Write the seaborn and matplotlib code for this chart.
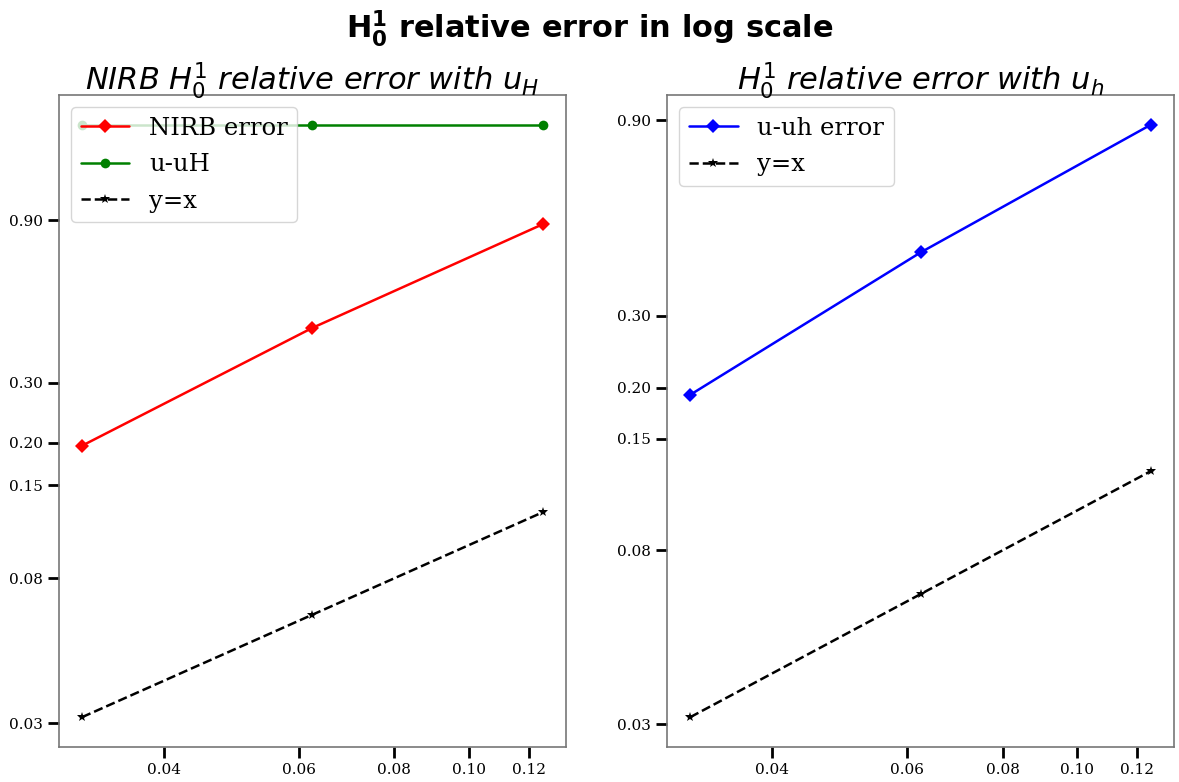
import numpy as np
import pandas as pd
import matplotlib
matplotlib.use("Agg")
import matplotlib.pyplot as plt
import seaborn as sns
from matplotlib.ticker import FormatStrFormatter, NullLocator

# mesh sizes and errors
h = [1 / 32, 1 / 16, 1 / 8]
nirb_err = [0.196, 0.435, 0.877]
u_uH_err = [1.72, 1.72, 1.72]
u_uh_err = [0.192, 0.428, 0.879]
yx = [1 / 32, 1 / 16, 1 / 8]

yticks = [0.03, 0.08, 0.15, 0.20, 0.30, 0.90]
xticks = [0.04, 0.06, 0.08, 0.10, 0.12]

sns.set_style("white")
plt.rcParams["font.family"] = ["DejaVu Serif"]
plt.rcParams["mathtext.fontset"] = "dejavusans"
plt.rcParams["text.color"] = "black"
plt.rcParams["xtick.color"] = "black"
plt.rcParams["ytick.color"] = "black"
plt.rcParams["xtick.labelcolor"] = "black"
plt.rcParams["ytick.labelcolor"] = "black"

fig, axes = plt.subplots(1, 2, figsize=(11.79, 7.82), dpi=100)
fig.subplots_adjust(left=0.050, right=0.9958, bottom=0.045, top=0.8785, wspace=0.2)

ax = axes[0]
sns.lineplot(x=h, y=nirb_err, ax=ax, color="red", marker="D", markersize=7,
             markeredgewidth=0, linewidth=1.8, label="NIRB error")
sns.lineplot(x=h, y=u_uH_err, ax=ax, color="green", marker="o", markersize=7,
             markeredgewidth=0, linewidth=1.8, label="u-uH")
sns.lineplot(x=h, y=yx, ax=ax, color="black", marker="*", markersize=7,
             markeredgewidth=0, linewidth=1.8, linestyle="--", label="y=x")
ax.set_title(r"NIRB $H_0^1$ relative error with $u_H$", fontsize=22,
             family="DejaVu Sans", style="italic", color="black", pad=4)

ax = axes[1]
sns.lineplot(x=h, y=u_uh_err, ax=ax, color="blue", marker="D", markersize=7,
             markeredgewidth=0, linewidth=1.8, label="u-uh error")
sns.lineplot(x=h, y=yx, ax=ax, color="black", marker="*", markersize=7,
             markeredgewidth=0, linewidth=1.8, linestyle="--", label="y=x")
ax.set_title(r"$H_0^1$ relative error with $u_h$", fontsize=22,
             family="DejaVu Sans", style="italic", color="black", pad=4)

for ax in axes:
    ax.set_xscale("log")
    ax.set_yscale("log")
    ax.set_xticks(xticks)
    ax.set_yticks(yticks)
    ax.xaxis.set_major_formatter(FormatStrFormatter("%.2f"))
    ax.yaxis.set_major_formatter(FormatStrFormatter("%.2f"))
    ax.xaxis.set_minor_locator(NullLocator())
    ax.yaxis.set_minor_locator(NullLocator())
    ax.tick_params(axis="both", which="major", direction="out", length=8,
                   width=2, color="black", labelcolor="black", labelsize=11,
                   bottom=True, left=True)
    for sp in ax.spines.values():
        sp.set_color("#777777")
        sp.set_linewidth(1.2)
    leg = ax.legend(loc="upper left", fontsize=17.5, frameon=True,
                    handlelength=2.0, borderpad=0.4, labelspacing=0.55)
    for t in leg.get_texts():
        t.set_color("black")

fig.suptitle(r"$\mathbf{H_0^1}$ relative error in log scale", fontsize=22,
             fontweight="bold", family="DejaVu Sans", y=0.99, color="black")

fig.savefig("out.png", dpi=100)
